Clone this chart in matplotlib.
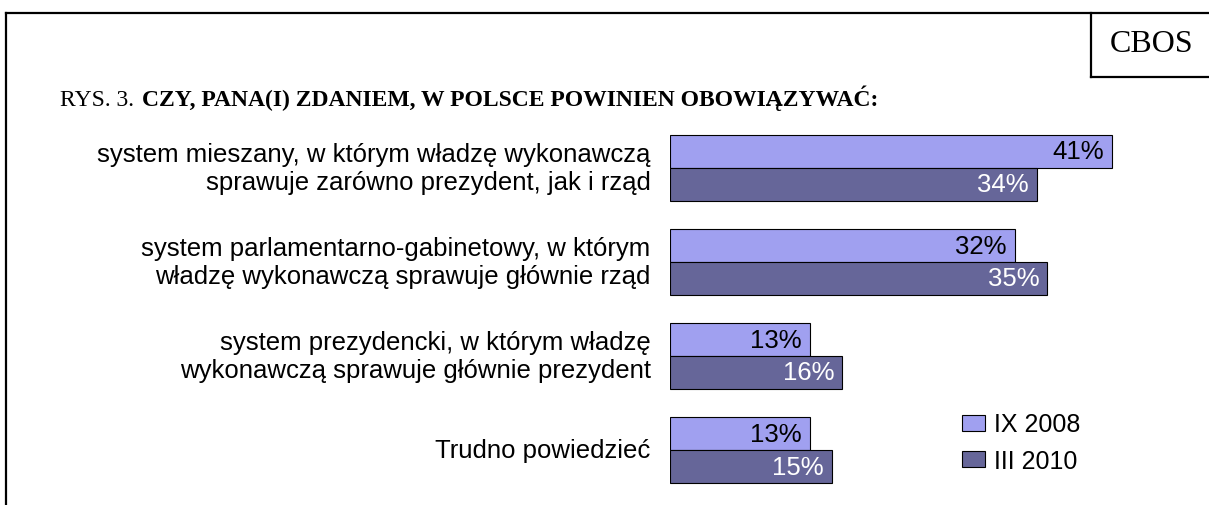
import numpy as np
import matplotlib.pyplot as plt
from matplotlib.lines import Line2D

categories = ['system mieszany, w którym władzę wykonawczą\nsprawuje zarówno prezydent, jak i rząd',
              'system parlamentarno-gabinetowy, w którym\nwładzę wykonawczą sprawuje głównie rząd',
              'system prezydencki, w którym władzę\nwykonawczą sprawuje głównie prezydent',
              'Trudno powiedzieć']
ix_2008 = [41, 32, 13, 13]
iii_2010 = [34, 35, 16, 15]
series_names = ['IX 2008', 'III 2010']

light = '#A0A0F0'
dark = '#666699'

W, H = 1209, 506
fig = plt.figure(figsize=(W / 100, H / 100), dpi=100)

# bars area in pixel terms: x 670..1209, y 120..500
ax = fig.add_axes([670 / W, 1 - 500 / H, (W - 670) / W, 380 / H])
ind = np.arange(len(categories))
h = 0.35
b1 = ax.barh(ind - h / 2, ix_2008, h, color=light, edgecolor='black', linewidth=0.8, label=series_names[0])
b2 = ax.barh(ind + h / 2, iii_2010, h, color=dark, edgecolor='black', linewidth=0.8, label=series_names[1])
ax.set_xlim(0, 50)
ax.set_ylim(3.52, -0.52)
ax.axis('off')

font = 'Liberation Sans'
fs = 18.5
for r, v in zip(b1, ix_2008):
    ax.text(v - 0.75, r.get_y() + r.get_height() / 2, f'{v}%', ha='right', va='center',
            fontsize=fs, family=font, color='black')
for r, v in zip(b2, iii_2010):
    ax.text(v - 0.75, r.get_y() + r.get_height() / 2, f'{v}%', ha='right', va='center',
            fontsize=fs, family=font, color='white')

for i, c in enumerate(categories):
    ax.text(-1.8, i, c, ha='right', va='center', fontsize=fs, family=font,
            linespacing=1.2, multialignment='right')

ax.legend(loc='upper left', bbox_to_anchor=(949 / W, 1 - 401 / H), bbox_transform=fig.transFigure,
          frameon=False, prop={'family': font, 'size': 18}, handlelength=0.95, handleheight=0.6,
          handletextpad=0.35, labelspacing=0.5, borderpad=0)

# title
fig.text(60 / W, 1 - 106 / H, 'RYS. 3.', ha='left', va='baseline', fontsize=17, family='Liberation Serif')
fig.text(142 / W, 1 - 106 / H, 'CZY, PANA(I) ZDANIEM, W POLSCE POWINIEN OBOWIĄZYWAĆ:', ha='left', va='baseline',
         fontsize=17, family='Liberation Serif', weight='bold')
fig.text(1152 / W, 1 - 45 / H, 'CBOS', ha='center', va='center', fontsize=23, family='Liberation Serif')

# frame lines
lw = 1.6
fig.add_artist(Line2D([6 / W, 1], [1 - 14 / H, 1 - 14 / H], color='black', linewidth=lw))
fig.add_artist(Line2D([6 / W, 6 / W], [0, 1 - 14 / H], color='black', linewidth=lw))
fig.add_artist(Line2D([1091 / W, 1091 / W], [1 - 78 / H, 1 - 14 / H], color='black', linewidth=lw))
fig.add_artist(Line2D([1091 / W, 1], [1 - 78 / H, 1 - 78 / H], color='black', linewidth=lw))

fig.savefig('out.png', dpi=100)
